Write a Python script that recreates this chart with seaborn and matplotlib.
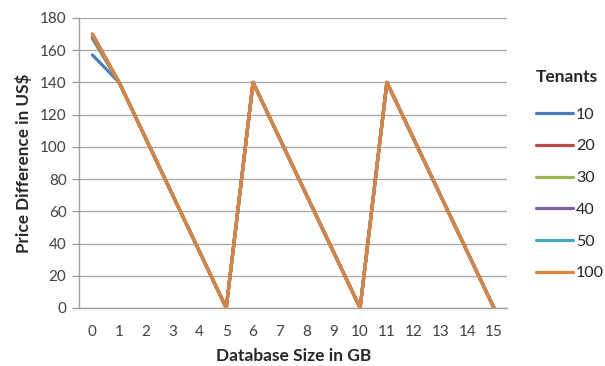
import matplotlib
matplotlib.use("Agg")
import matplotlib.pyplot as plt
import seaborn as sns
import pandas as pd
import numpy as np

sizes = list(range(16))
tenants = ["10", "20", "30", "40", "50", "100"]
start_values = {"10": 157, "20": 170, "30": 167, "40": 168, "50": 169, "100": 170}
common_values = [140, 105, 70, 35, 0, 140, 105, 70, 35, 0, 140, 105, 70, 35, 0]
colors = ["#4A7EBB", "#BE4B48", "#98B954", "#7D60A0", "#46AAC5", "#E0823A"]

rows = []
for t in tenants:
    vals = [start_values[t]] + common_values
    for s, v in zip(sizes, vals):
        rows.append({"size": s, "diff": v, "Tenants": t})
df = pd.DataFrame(rows)

sns.set_style("white")
plt.rcParams["font.family"] = ["Lato", "DejaVu Sans"]

fig = plt.figure(figsize=(6.05, 3.66), dpi=100)
ax = fig.add_axes([0.1306, 0.1585, 0.708, 0.7925])

sns.lineplot(data=df, x="size", y="diff", hue="Tenants", hue_order=tenants,
             palette=colors, linewidth=2.3, ax=ax, legend=False,
             estimator=None, sort=False)

ax.set_xlim(-0.5, 15.5)
ax.set_ylim(0, 180)
ax.set_yticks(range(0, 181, 20))
ax.set_xticks(sizes)
ax.set_xticklabels([str(s) for s in sizes])
ax.set_xticks(np.arange(-0.5, 15.6, 1), minor=True)
ax.tick_params(axis="x", which="major", length=0, pad=12, labelsize=11, colors="#404040")
ax.tick_params(axis="x", which="minor", length=5, width=1, color="#A0A0A0", direction="out")
ax.tick_params(axis="y", which="major", length=5, width=1, color="#A0A0A0", direction="out",
               labelsize=11, labelcolor="#404040", left=True, pad=4)
ax.grid(axis="y", color="#A6A6A6", linewidth=0.9)
ax.set_axisbelow(True)
for sp in ["top", "right"]:
    ax.spines[sp].set_visible(False)
for sp in ["left", "bottom"]:
    ax.spines[sp].set_color("#A0A0A0")
    ax.spines[sp].set_linewidth(1)

ax.set_xlabel("Database Size in GB", fontsize=12.5, fontweight="bold", labelpad=7)
ax.set_ylabel("Price Difference in US$", fontsize=12.3, fontweight="bold", labelpad=6)

handles = [plt.Line2D([], [], color=c, linewidth=2.3) for c in colors]
leg = fig.legend(handles, tenants, title="Tenants", loc="upper left",
                 bbox_to_anchor=(0.862, 0.85), frameon=False, fontsize=11.5,
                 title_fontproperties={"weight": "bold", "size": 12.5},
                 handlelength=2.35, handletextpad=0.15, labelspacing=1.1,
                 alignment="left")
leg._legend_box.sep = 16

fig.savefig("out.png", dpi=100)
